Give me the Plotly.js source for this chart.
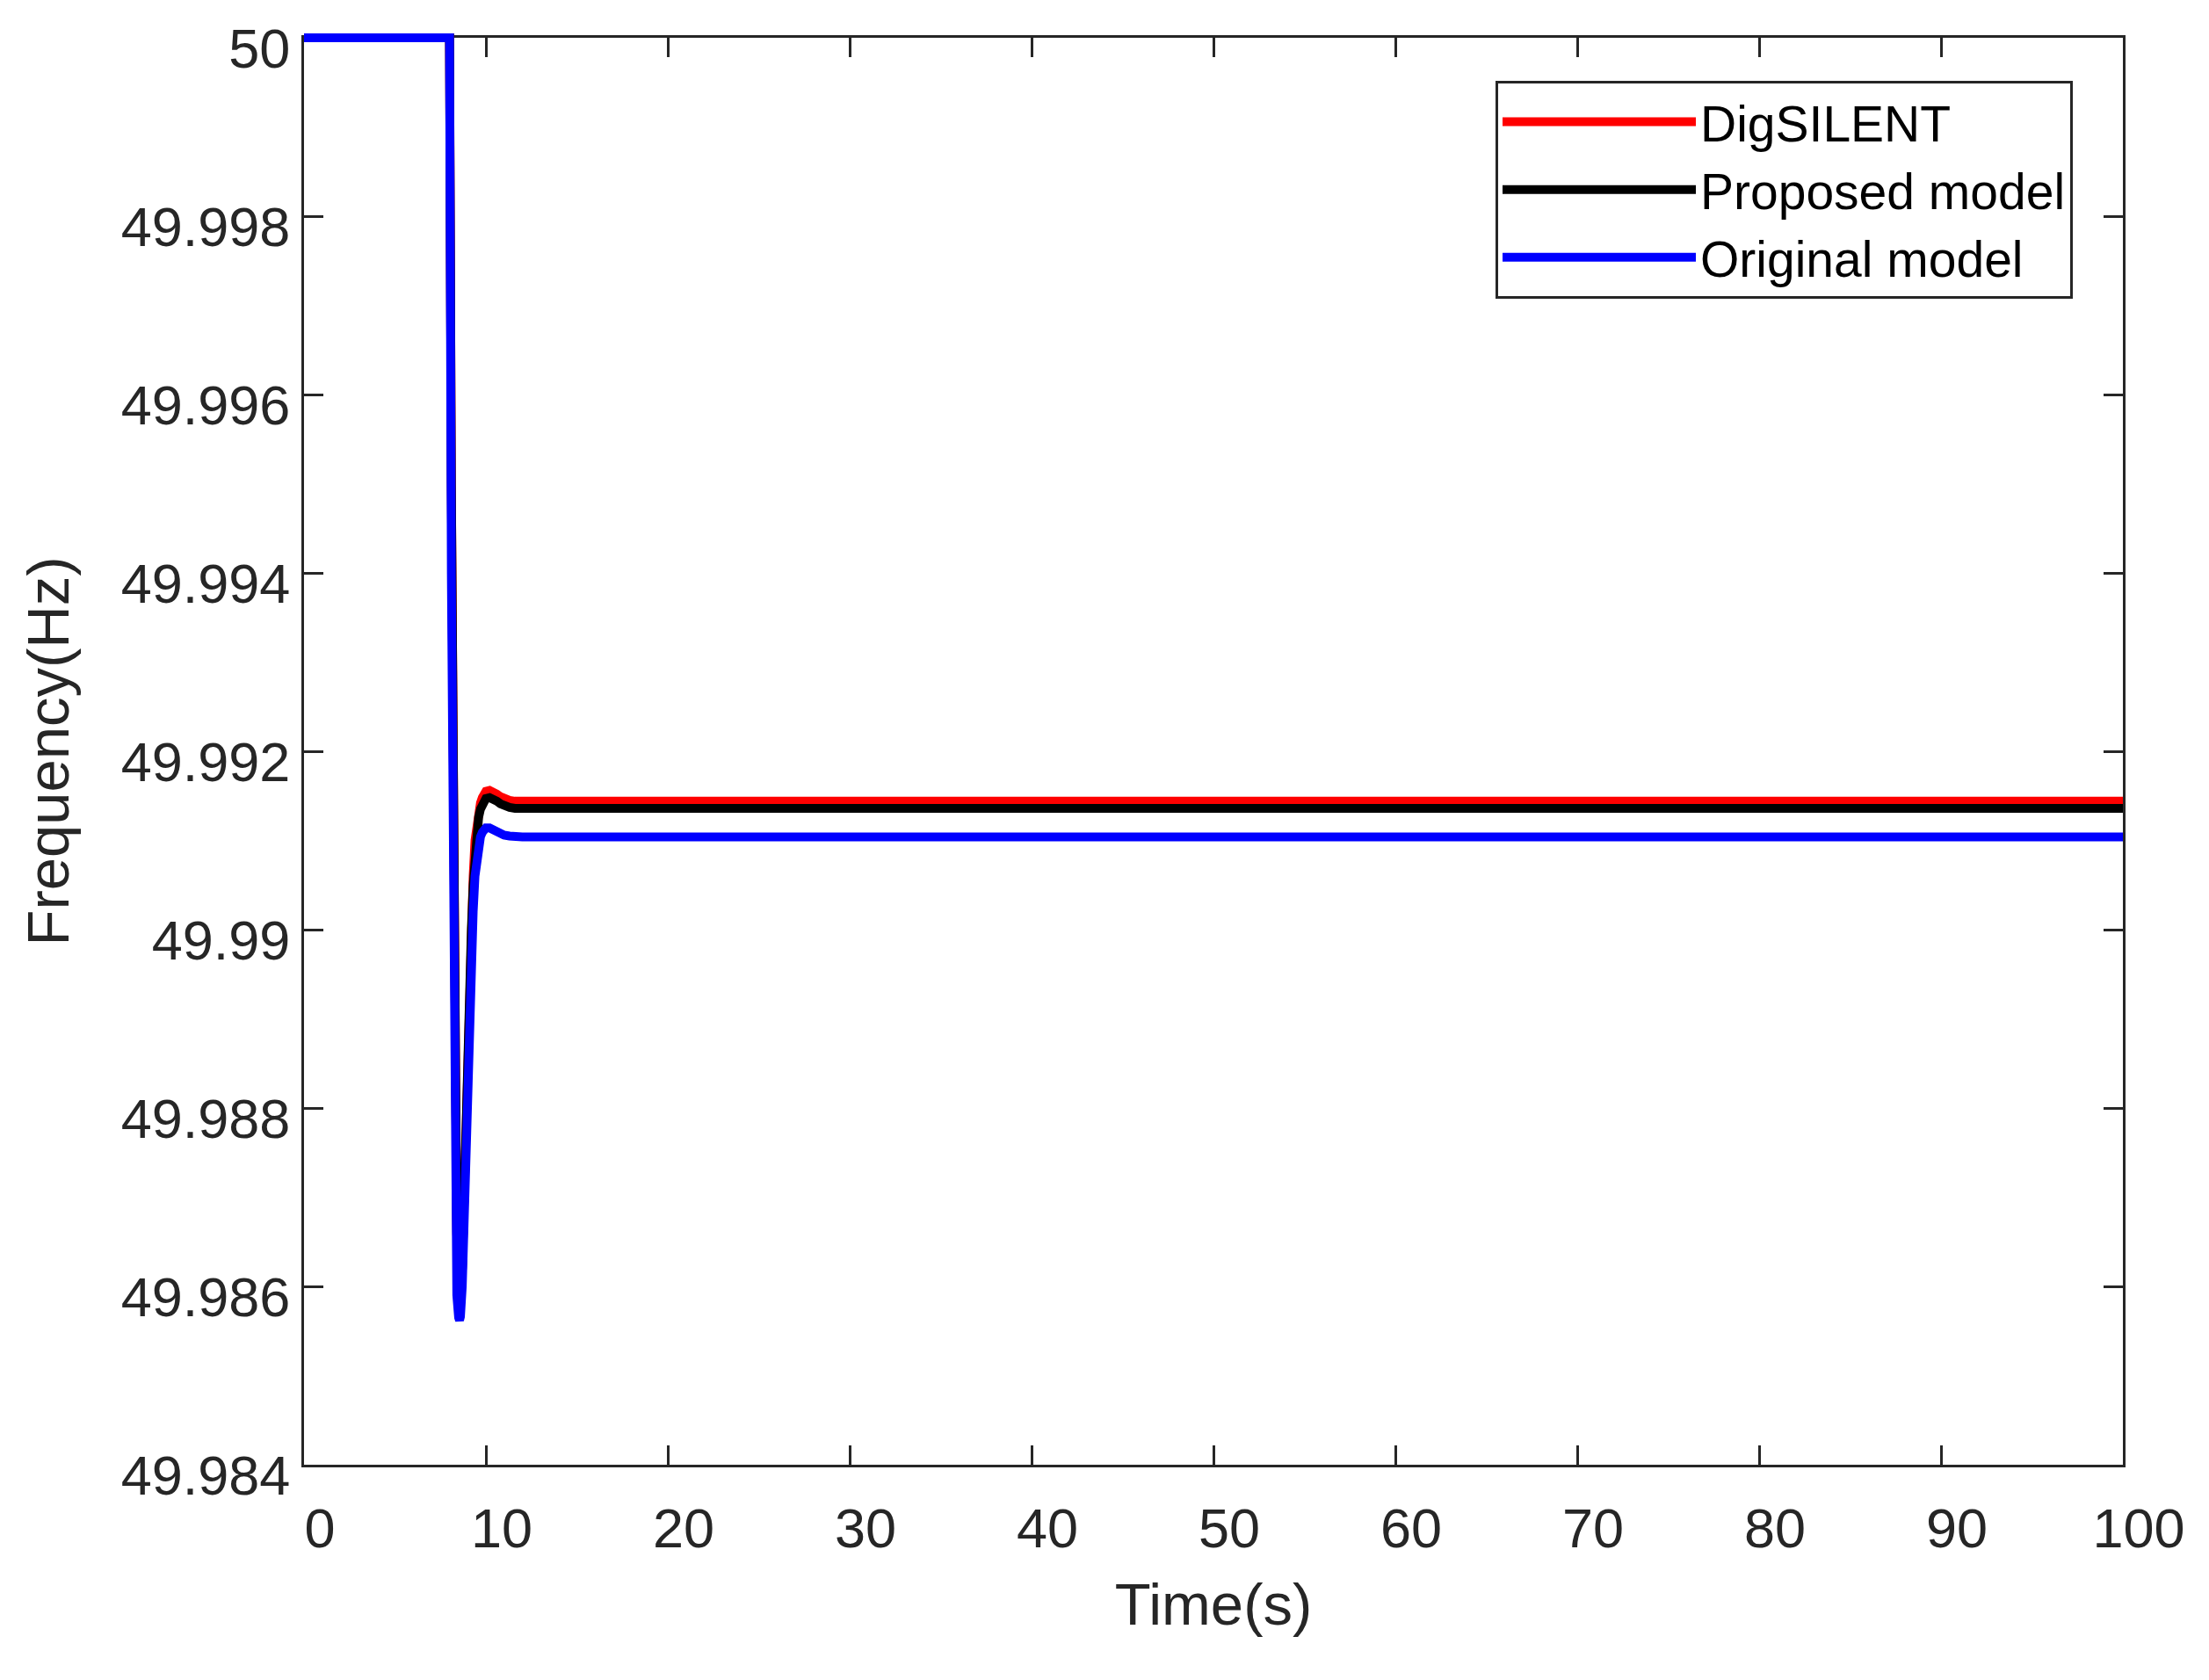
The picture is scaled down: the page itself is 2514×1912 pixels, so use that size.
<!DOCTYPE html>
<html>
<head>
<meta charset="utf-8">
<script src="https://cdn.plot.ly/plotly-3.0.1.min.js"></script>
<style>
  html, body { margin: 0; padding: 0; background: #ffffff; }
  #chart { width: 2514px; height: 1912px; }
</style>
</head>
<body>
<div id="chart"></div>
<script>
// ---- Data ----
var time = [0, 8.0, 8.1, 8.2, 8.3, 8.4, 8.5, 8.55, 8.6, 8.7, 8.8, 8.9, 9.0, 9.1, 9.2, 9.3, 9.4, 9.5, 9.6, 9.7, 9.8, 9.9, 10.0, 10.2, 10.4, 10.6, 10.8, 11.0, 11.3, 11.6, 12.0, 100];

var digsilent = [50, 50, 49.9950, 49.9915, 49.9885, 49.9866, 49.9859, 49.98578, 49.9858, 49.9862, 49.9871, 49.9880, 49.9888, 49.9895, 49.9901, 49.9906, 49.9910, 49.99122, 49.99133, 49.99142, 49.99148, 49.99152, 49.99155, 49.99156, 49.99155, 49.99152, 49.99149, 49.99147, 49.99145, 49.99144, 49.99144, 49.99144];

var proposedModel = [50, 50, 49.9950, 49.9915, 49.9885, 49.9866, 49.9859, 49.98578, 49.9858, 49.9862, 49.9871, 49.9880, 49.9888, 49.9894, 49.9900, 49.9905, 49.9909, 49.99115, 49.99126, 49.99135, 49.99141, 49.99145, 49.99147, 49.99148, 49.99147, 49.99144, 49.99141, 49.99139, 49.99137, 49.99136, 49.99136, 49.99136];

var originalModel = [50, 50, 49.9940, 49.9905, 49.9870, 49.9859, 49.98565, 49.98562, 49.98566, 49.9860, 49.9868, 49.98771, 49.9886, 49.9892, 49.9897, 49.9902, 49.9906, 49.99083, 49.99096, 49.99104, 49.99109, 49.99112, 49.99114, 49.99114, 49.99112, 49.99109, 49.99107, 49.99106, 49.99105, 49.99104, 49.99104, 49.99104];

var seriesNames = ["DigSILENT", "Proposed model", "Original model"];

var xTickVals = [0, 10, 20, 30, 40, 50, 60, 70, 80, 90, 100];
var yTickVals = [49.984, 49.986, 49.988, 49.99, 49.992, 49.994, 49.996, 49.998, 50];
var yTickText = ["49.984", "49.986", "49.988", "49.99", "49.992", "49.994", "49.996", "49.998", "50"];

var yMin = 49.984, yMax = 50;

// ---- Layout geometry ----
var W = 2514, H = 1912;
var mL = 346, mR = 98, mT = 37, mB = 245;
var plotH = H - mT - mB;          // height of the trace subplot
var boxH = 1624;                  // height of the visible axes box
var boxFrac = boxH / plotH;
// hidden trace axis spans slightly more so that the line lying on the top edge is not cut in half
var yTraceMax = yMin + (yMax - yMin) / boxFrac;

var axisColor = "#262626";
var fontFam = "'Liberation Sans', Arial, Helvetica, sans-serif";

var colors = ["#ff0000", "#000000", "#0000ff"];
var values = [digsilent, proposedModel, originalModel];

// empty helper trace so that the visible axes box (x / y) is drawn
var traces = [{
  x: [], y: [], type: "scatter", mode: "lines",
  xaxis: "x", yaxis: "y", showlegend: false, hoverinfo: "skip"
}];

values.forEach(function (v, i) {
  traces.push({
    x: time,
    y: v,
    type: "scatter",
    mode: "lines",
    name: seriesNames[i],
    xaxis: "x",
    yaxis: "y2",
    line: { color: colors[i], width: 10 },
    hoverinfo: "x+y+name"
  });
});

var layout = {
  width: W,
  height: H,
  paper_bgcolor: "#ffffff",
  plot_bgcolor: "rgba(0,0,0,0)",
  margin: { l: mL, r: mR, t: mT, b: mB, pad: 0 },
  showlegend: true,
  font: { family: fontFam, color: axisColor },
  xaxis: {
    anchor: "y",
    range: [0, 100],
    tickvals: xTickVals,
    ticktext: xTickVals.map(String),
    ticks: "inside",
    ticklen: 22,
    tickwidth: 3,
    tickcolor: axisColor,
    showline: true,
    linewidth: 3,
    linecolor: axisColor,
    mirror: "ticks",
    showgrid: false,
    zeroline: false,
    layer: "below traces",
    tickfont: { family: fontFam, size: 63, color: axisColor },
    ticklabelshift: 18,
    ticklabelstandoff: 15,
    title: { text: "Time(s)", font: { family: fontFam, size: 67, color: axisColor }, standoff: 30 }
  },
  yaxis: {
    domain: [0, boxFrac],
    anchor: "x",
    range: [yMin, yMax],
    tickvals: yTickVals,
    ticktext: yTickText,
    ticks: "inside",
    ticklen: 22,
    tickwidth: 3,
    tickcolor: axisColor,
    showline: true,
    linewidth: 3,
    linecolor: axisColor,
    mirror: "ticks",
    showgrid: false,
    zeroline: false,
    layer: "below traces",
    tickfont: { family: fontFam, size: 63, color: axisColor },
    ticklabelshift: 12,
    ticklabelstandoff: 0,
    title: { text: "Frequency(Hz)", font: { family: fontFam, size: 67, color: axisColor }, standoff: 38 }
  },
  yaxis2: {
    domain: [0, 1],
    anchor: "x",
    range: [yMin, yTraceMax],
    visible: false,
    showgrid: false,
    zeroline: false,
    fixedrange: true
  },
  legend: {
    x: (1702 - mL) / (W - mL - mR),
    y: (H - mB - 92) / plotH,
    xanchor: "left",
    yanchor: "top",
    bgcolor: "#ffffff",
    bordercolor: axisColor,
    borderwidth: 3,
    font: { family: fontFam, size: 57, color: "#000000" },
    itemwidth: 220,
    tracegroupgap: 0
  }
};

Plotly.newPlot("chart", traces, layout, { displayModeBar: false, staticPlot: true });
</script>
</body>
</html>
